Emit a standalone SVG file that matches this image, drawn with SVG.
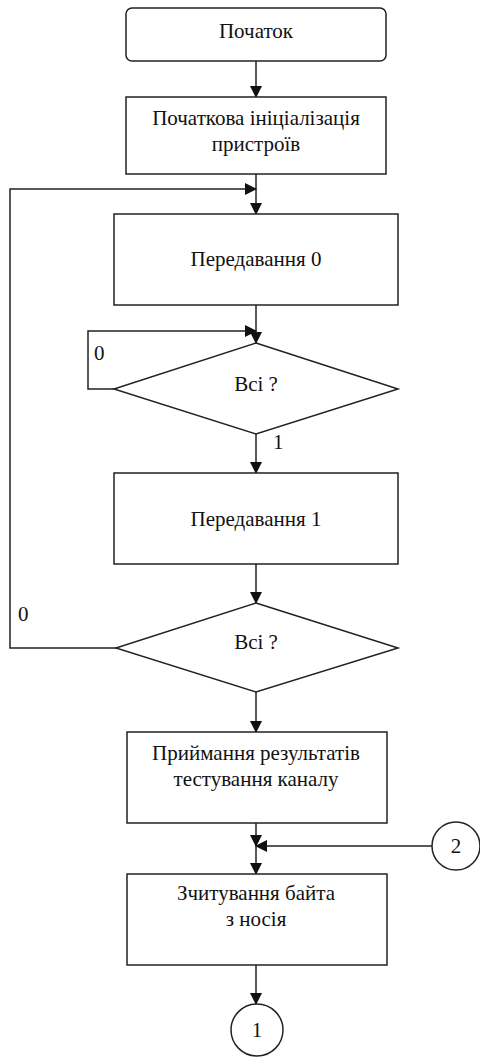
<svg xmlns="http://www.w3.org/2000/svg" width="480" height="1059" viewBox="0 0 480 1059">
<style>
.n{fill:#fff;stroke:#222;stroke-width:1.5}
.c{fill:none;stroke:#222;stroke-width:1.5}
.t{font-family:"Liberation Serif","Times New Roman",serif;font-size:21px;fill:#111;text-anchor:middle}
.l{font-family:"Liberation Serif","Times New Roman",serif;font-size:21px;fill:#111}
</style>
<defs>
<marker id="a" markerWidth="12" markerHeight="12" refX="11" refY="6" orient="auto" markerUnits="userSpaceOnUse">
<path d="M0,0 L12,6 L0,12 Z" fill="#111"/>
</marker>
</defs>
<rect width="480" height="1059" fill="#fff"/>
<g id="connectors">
<path class="c" d="M256,61 V97" marker-end="url(#a)"/>
<path class="c" d="M256,174 V214" marker-end="url(#a)"/>
<path class="c" d="M116,648 H10 V189 H256" marker-end="url(#a)"/>
<path class="c" d="M256,305 V343" marker-end="url(#a)"/>
<path class="c" d="M114,389 H88 V331 H256" marker-end="url(#a)"/>
<path class="c" d="M256,434 V473" marker-end="url(#a)"/>
<path class="c" d="M256,564 V603" marker-end="url(#a)"/>
<path class="c" d="M256,692 V732" marker-end="url(#a)"/>
<path class="c" d="M256,823 V846" marker-end="url(#a)"/>
<path class="c" d="M432,846 H256" marker-end="url(#a)"/>
<path class="c" d="M256,846 V874" marker-end="url(#a)"/>
<path class="c" d="M256,965 V1004" marker-end="url(#a)"/>
<text class="l" x="94" y="360">0</text>
<text class="l" x="273" y="449">1</text>
<text class="l" x="18" y="621">0</text>
</g>
<g id="start">
<rect class="n" x="126" y="8" width="260" height="53" rx="6"/>
<text class="t" x="256" y="38">Початок</text>
</g>
<g id="init">
<rect class="n" x="126" y="97" width="260" height="77"/>
<text class="t" x="256" y="125">Початкова ініціалізація</text>
<text class="t" x="256" y="151">пристроїв</text>
</g>
<g id="send0">
<rect class="n" x="114" y="214" width="284" height="91"/>
<text class="t" x="256" y="266">Передавання 0</text>
</g>
<g id="dec1">
<polygon class="n" points="256,343 398,389 256,434 114,389"/>
<text class="t" x="256" y="391">Всі ?</text>
</g>
<g id="send1">
<rect class="n" x="114" y="473" width="284" height="91"/>
<text class="t" x="256" y="526">Передавання 1</text>
</g>
<g id="dec2">
<polygon class="n" points="256,603 398,648 256,692 116,648"/>
<text class="t" x="256" y="649">Всі ?</text>
</g>
<g id="recv">
<rect class="n" x="127" y="732" width="260" height="91"/>
<text class="t" x="256" y="760">Приймання результатів</text>
<text class="t" x="256" y="786">тестування каналу</text>
</g>
<g id="read">
<rect class="n" x="127" y="874" width="260" height="91"/>
<text class="t" x="256" y="900">Зчитування байта</text>
<text class="t" x="256" y="926">з носія</text>
</g>
<g id="conn2">
<circle class="n" cx="456" cy="846" r="24"/>
<text class="t" x="456" y="853">2</text>
</g>
<g id="conn1">
<circle class="n" cx="257" cy="1030" r="26"/>
<text class="t" x="257" y="1037">1</text>
</g>
</svg>
